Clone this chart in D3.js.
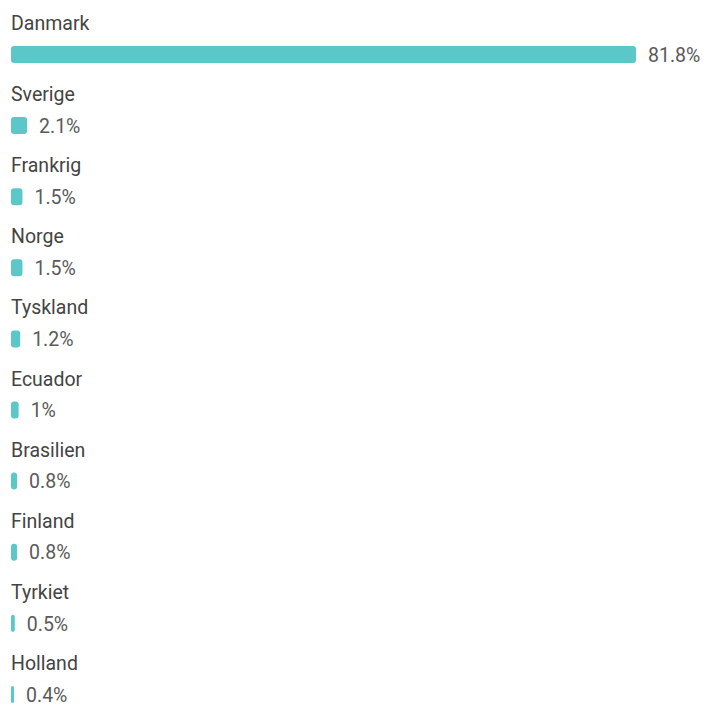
<!DOCTYPE html>
<html>
<head>
<meta charset="utf-8">
<script src="https://cdn.jsdelivr.net/npm/d3@7"></script>
<style>
    body { margin: 0; background: #fff; }
    svg { display: block; font-family: Roboto, "Noto Sans", sans-serif; }
</style>
</head>
<body>
<div id="chart"></div>
<script>
    const countries = ["Danmark", "Sverige", "Frankrig", "Norge", "Tyskland", "Ecuador", "Brasilien", "Finland", "Tyrkiet", "Holland"];
    const shares = [81.8, 2.1, 1.5, 1.5, 1.2, 1, 0.8, 0.8, 0.5, 0.4];
    const shareLabels = ["81.8%", "2.1%", "1.5%", "1.5%", "1.2%", "1%", "0.8%", "0.8%", "0.5%", "0.4%"];

    const width = 707;
    const height = 706;
    const left = 11;

    const svg = d3.select("#chart")
        .append("svg")
        .attr("width", width)
        .attr("height", height);

    const y = d3.scaleBand()
        .domain(countries)
        .range([0, 711])
        .padding(0);

    const x = d3.scaleLinear()
        .domain([0, 81.8])
        .range([0, 625]);

    const rows = countries.map((name, i) => ({ name, value: shares[i], label: shareLabels[i] }));

    const row = svg.append("g")
        .selectAll("g")
        .data(rows)
        .join("g")
        .attr("transform", d => `translate(${left},${y(d.name)})`);

    row.append("text")
        .attr("x", 0)
        .attr("y", 30)
        .attr("fill", "#444")
        .attr("font-size", 19.5)
        .text(d => d.name);

    const barH = 17;
    row.append("rect")
        .attr("x", 0)
        .attr("y", 46)
        .attr("width", d => Math.max(2, x(d.value)))
        .attr("height", barH)
        .attr("rx", d => Math.min(3, x(d.value) / 2))
        .attr("fill", "#5cc7c9");

    row.append("text")
        .attr("x", d => Math.max(2, x(d.value)) + 12)
        .attr("y", 46 + barH / 2)
        .attr("dy", "0.37em")
        .attr("fill", "#5a5a5a")
        .attr("font-size", 19.5)
        .text(d => d.label);
</script>
</body>
</html>
